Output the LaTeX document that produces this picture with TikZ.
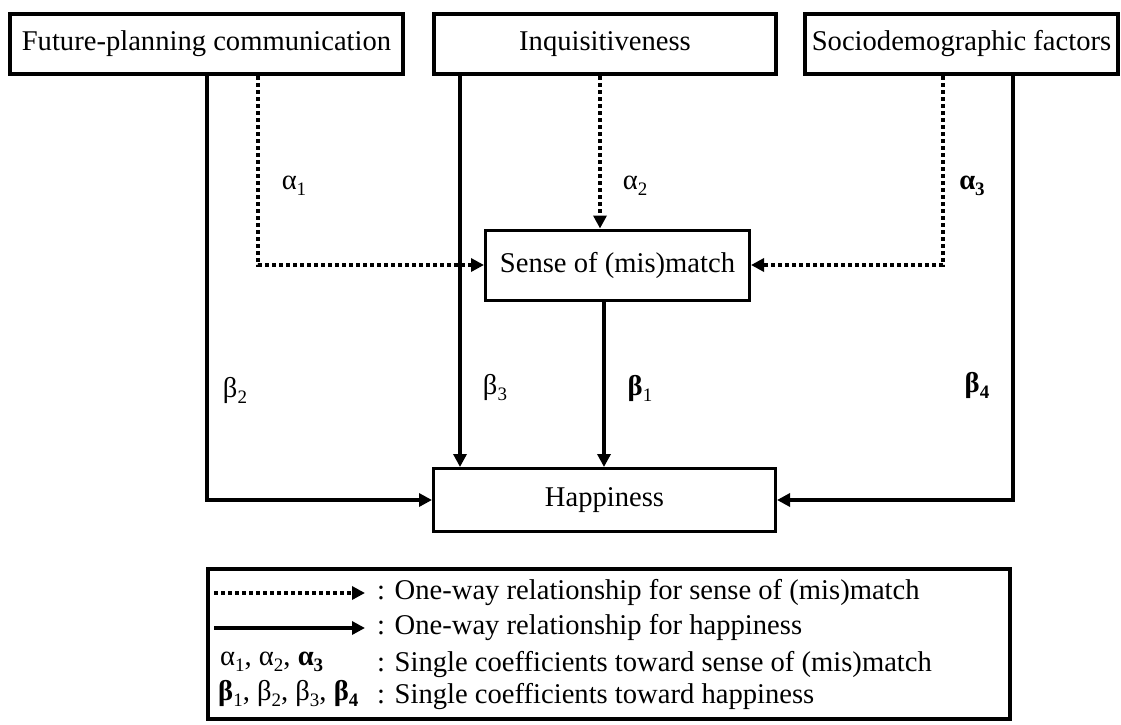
\documentclass[tikz,border=0pt]{standalone}
\usepackage{fontspec}
\setmainfont{Liberation Serif}
\usetikzlibrary{arrows.meta}

% lowered index as in the coefficient labels
\newcommand{\lowidx}[1]{\raisebox{-6pt}{\fontsize{19}{19}\selectfont #1}}

\tikzset{
  bigbox/.style={draw, rectangle, line width=4pt, minimum height=60pt, inner sep=0pt},
  midbox/.style={draw, rectangle, line width=3pt, inner sep=0pt},
  solidarr/.style={line width=4pt, -{Triangle[length=13pt,width=13pt]}},
  dotarr/.style={solidarr, dash pattern=on 4pt off 3pt},
  coef/.style={inner sep=0pt},
}

\begin{document}
\begin{tikzpicture}[x=1pt, y=-1pt, font=\fontsize{28.6}{34}\selectfont]
    \useasboundingbox (0,0) rectangle (1121,725);

    % ---------------------------------------------
    % the three factors on top
    \node[bigbox, minimum width=393pt] (fpc) at (206.5,44) {Future-planning communication};
    \node[bigbox, minimum width=342pt] (inq) at (605,44) {Inquisitiveness};
    \node[bigbox, minimum width=313pt] (soc) at (961.5,44) {Sociodemographic factors};

    % ---------------------------------------------
    % mediator and outcome
    \node[midbox, minimum width=264pt, minimum height=70pt] (sense) at (617.5,265) {Sense of (mis)match};
    \node[midbox, minimum width=342pt, minimum height=63pt] (happy) at (604.5,500) {Happiness};

    % dotted paths toward sense of (mis)match
    \draw[dotarr] (fpc.south -| 258,0) |- (sense.west);
    \draw[dotarr] (inq.south -| 600,0) -- (sense.north -| 600,0);
    \draw[dotarr] (soc.south -| 943,0) |- (sense.east);

    % solid paths toward happiness
    \draw[solidarr] (fpc.south) |- (happy.west);
    \draw[solidarr] (inq.south -| 460,0) -- (happy.north -| 460,0);
    \draw[solidarr] (sense.south -| 604,0) -- (happy.north -| 604,0);
    \draw[solidarr] (soc.south -| 1013,0) |- (happy.east);

    % coefficients
    \node[coef] (a1) at (294,186) {α\lowidx{1}};
    \node[coef] (a2) at (635,186) {α\lowidx{2}};
    \node[coef] (a3) at (972,186) {\bfseries α\lowidx{3}};
    \node[coef] (b2) at (235,390) {β\lowidx{2}};
    \node[coef] (b3) at (495,388) {β\lowidx{3}};
    \node[coef] (b1) at (640,388) {\textbf{β}\lowidx{1}};
    \node[coef] (b4) at (977,385) {\bfseries β\lowidx{4}};

    % ---------------------------------------------
    % legend
    \node[bigbox, minimum width=802pt, minimum height=150pt] (legend) at (609,644) {};
    \coordinate (dotA) at (214,593);
    \coordinate (dotB) at (365,593);
    \coordinate (solA) at (214,628);
    \coordinate (solB) at (365,628);
    \draw[dotarr] (dotA) -- (dotB);
    \draw[solidarr] (solA) -- (solB);
    \node[coef, anchor=west] (leg1) at (377,593) {: One-way relationship for sense of (mis)match};
    \node[coef, anchor=west] (leg2) at (377,628) {: One-way relationship for happiness};
    \node[coef, anchor=west] (alist) at (220,662) {α\lowidx{1}, α\lowidx{2}, \textbf{α\lowidx{3}}};
    \node[coef, anchor=west] (leg3) at (377,665) {: Single coefficients toward sense of (mis)match};
    \node[coef, anchor=west] (blist) at (218,694) {\textbf{β}\lowidx{1}, β\lowidx{2}, β\lowidx{3}, \textbf{β\lowidx{4}}};
    \node[coef, anchor=west] (leg4) at (377,697) {: Single coefficients toward happiness};

\end{tikzpicture}
\end{document}
